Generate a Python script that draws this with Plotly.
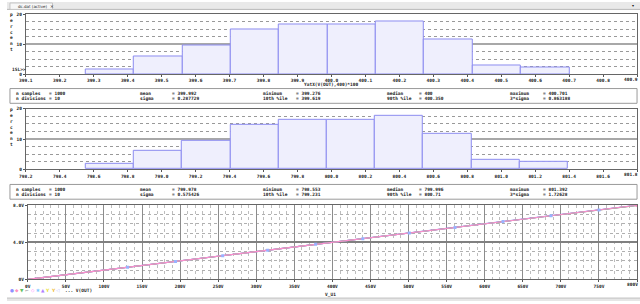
import plotly.graph_objects as go

W, H = 640, 304

# ---------------- data ----------------
# histogram 1 : YatX(V(OUT),400)*100
h1_title = "YatX(V(OUT),400)*100"
h1_min, h1_max, h1_ndiv = 399.276, 400.701, 10
h1_pct = [1.7, 6.0, 9.6, 14.9, 16.5, 16.5, 17.8, 11.7, 3.0, 2.3]
h1_ticks = ["399.1", "399.2", "399.3", "399.4", "399.5", "399.6", "399.7", "399.8", "399.9",
            "400.0", "400.1", "400.2", "400.3", "400.4", "400.5", "400.6", "400.7", "400.8", "400.9"]
h1_stats_r1 = [("n samples", "1000"), ("mean", "399.992"), ("minimum", "399.276"),
               ("median", "400"), ("maximum", "400.701")]
h1_stats_r2 = [("n divisions", "10"), ("sigma", "0.287729"), ("10th %ile", "399.619"),
               ("90th %ile", "400.350"), ("3*sigma", "0.863188")]

# histogram 2
h2_min, h2_max, h2_ndiv = 798.553, 801.392, 10
h2_pct = [1.8, 6.1, 9.5, 14.8, 16.4, 16.4, 17.7, 11.6, 3.1, 2.6]
h2_ticks = ["798.2", "798.4", "798.6", "798.8", "799.0", "799.2", "799.4", "799.6", "799.8",
            "800.0", "800.2", "800.4", "800.6", "800.8", "801.0", "801.2", "801.4", "801.6", "801.8"]
h2_stats_r1 = [("n samples", "1000"), ("mean", "799.978"), ("minimum", "798.553"),
               ("median", "799.996"), ("maximum", "801.392")]
h2_stats_r2 = [("n divisions", "10"), ("sigma", "0.575426"), ("10th %ile", "799.231"),
               ("90th %ile", "800.71"), ("3*sigma", "1.72628")]

# sweep plot V(OUT) vs V_U1
sweep_x = [0, 800]
vout_steps = [[0, 7.99], [0, 8.01], [0, 8.0], [0, 7.995], [0, 8.005]]
step_colors = ["#ff8ccf", "#8c8cff", "#c080ff", "#70c870", "#ff8ccf"]
marker_x = [131, 194, 256, 315, 378, 440, 501, 561, 624, 687, 750, 800]
marker_y = [1.31, 1.94, 2.56, 3.15, 3.78, 4.40, 5.01, 5.61, 6.24, 6.87, 7.50, 8.0]
marker_c = ["#99b3ff"] * 11 + ["#ff80c0"]
x3_vals = [0, 50, 100, 150, 200, 250, 300, 350, 400, 450, 500, 550, 600, 650, 700, 750, 800]
x3_text = ["0V", "50V", "100V", "150V", "200V", "250V", "300V", "350V", "400V", "450V",
           "500V", "550V", "600V", "650V", "700V", "750V", "800V"]
y3_vals = [0, 4, 8]
y3_text = ["0V", "4.0V", "8.0V"]
legend_syms = ["●", "◆", "▼", "⌐", "◇", "✱", "▲", "Y", "Y", "◁"]
legend_cols = ["#9090ff", "#ff90c0", "#60c060", "#999999", "#ff80ff", "#80c8ff",
               "#b080ff", "#e8e040", "#f0c040", "#c0c0ff"]

# ---------------- helpers ----------------
def px(x):
    return x / W

def py(y):
    return 1 - y / H

FONT = "DejaVu Sans Mono"
FS = 4.5
TXT = "#1a1a1a"
tf = dict(family=FONT, size=FS, color=TXT, weight="bold")

fig = go.Figure()

def hist(minv, maxv, ndiv, pct, xa, ya):
    bw = (maxv - minv) / ndiv
    centers = [minv + bw * (i + 0.5) for i in range(ndiv)]
    fig.add_trace(go.Bar(x=centers, y=pct, width=[bw] * ndiv, xaxis=xa, yaxis=ya,
                         marker=dict(color="#efeffd", line=dict(color="#8c8cf0", width=1)),
                         showlegend=False, hoverinfo="skip"))

hist(h1_min, h1_max, h1_ndiv, h1_pct, "x", "y")
hist(h2_min, h2_max, h2_ndiv, h2_pct, "x2", "y2")

for vs, c in zip(vout_steps, step_colors):
    fig.add_trace(go.Scatter(x=sweep_x, y=vs, mode="lines", xaxis="x3", yaxis="y3",
                             line=dict(color=c, width=1.1), showlegend=False, hoverinfo="skip"))
fig.add_trace(go.Scatter(x=marker_x, y=marker_y, mode="markers", xaxis="x3", yaxis="y3",
                         marker=dict(color=marker_c, size=3, symbol="square"),
                         showlegend=False, hoverinfo="skip"))

def hist_xaxis(ticks, dom):
    vals = [float(t) for t in ticks]
    shown = ticks[:-1] + [""]   # last label drawn as right-aligned annotation
    return dict(domain=dom, range=[vals[0], vals[-1]], tickmode="array", tickvals=vals,
                ticktext=shown, ticks="outside", ticklen=2, tickcolor="#555",
                tickfont=tf, showgrid=False, zeroline=False, showline=True, mirror=True,
                linecolor="#666", linewidth=1, fixedrange=True)

def hist_yaxis(dom, anchor):
    return dict(domain=dom, range=[0, 20], tickmode="array", tickvals=[0, 10, 20],
                ticktext=["0", "10", "20"], ticks="outside", ticklen=2, tickcolor="#555",
                tickfont=tf, showgrid=True, gridcolor="#a8a8a8", gridwidth=2, zeroline=False,
                showline=True, mirror=True, linecolor="#666", linewidth=1, anchor=anchor,
                minor=dict(dtick=2.5, tick0=0, showgrid=True, gridcolor="#999999",
                           griddash="dot", gridwidth=1),
                fixedrange=True)

xdom = [px(19), px(637)]
fig.update_layout(
    xaxis=hist_xaxis(h1_ticks, xdom) | dict(anchor="y"),
    yaxis=hist_yaxis([py(73.3), py(12.7)], "x"),
    xaxis2=hist_xaxis(h2_ticks, xdom) | dict(anchor="y2"),
    yaxis2=hist_yaxis([py(170), py(108.6)], "x2"),
    xaxis3=dict(domain=[px(21), px(637)], range=[0, 800], tickmode="array", tickvals=x3_vals,
                ticktext=x3_text[:-1] + [""], ticks="outside", ticklen=2, tickcolor="#555",
                tickfont=tf, showgrid=True, gridcolor="#8c8c8c", gridwidth=1, zeroline=False,
                showline=True, mirror=True, linecolor="#666", linewidth=1, anchor="y3",
                minor=dict(dtick=10, tick0=0, showgrid=True, gridcolor="#bdbdbd",
                           griddash="dot", gridwidth=1),
                fixedrange=True),
    yaxis3=dict(domain=[py(282), py(206.7)], range=[0, 8], tickmode="array", tickvals=y3_vals,
                ticktext=y3_text, ticks="outside", ticklen=2, tickcolor="#555", tickfont=tf,
                showgrid=True, gridcolor="#808080", gridwidth=1.5, zeroline=False,
                showline=True, mirror=True, linecolor="#666", linewidth=1, anchor="x3",
                minor=dict(dtick=1, tick0=0, showgrid=True, gridcolor="#b0b0b0",
                           griddash="dot", gridwidth=1),
                fixedrange=True),
    width=W, height=H, margin=dict(l=0, r=0, t=0, b=0),
    paper_bgcolor="white", plot_bgcolor="white", bargap=0, showlegend=False,
)

shapes = []
ann = []

def text(x, y, s, xanchor="left", size=FS, color=TXT, family=FONT, weight="bold"):
    ann.append(dict(x=px(x), y=py(y), xref="paper", yref="paper", text=s, showarrow=False,
                    xanchor=xanchor, yanchor="middle",
                    font=dict(family=family, size=size, color=color, weight=weight)))

# top tab bar
shapes.append(dict(type="rect", xref="paper", yref="paper", x0=0, x1=1, y0=py(7.5), y1=1,
                   fillcolor="#e9e9e9", line=dict(width=0), layer="above"))
shapes.append(dict(type="line", xref="paper", yref="paper", x0=0, x1=1, y0=py(7.5), y1=py(7.5),
                   line=dict(color="#b8b8b8", width=1), layer="above"))
shapes.append(dict(type="rect", xref="paper", yref="paper", x0=px(3), x1=px(46), y0=py(7.5),
                   y1=py(1), fillcolor="#f7f7f7", line=dict(color="#c4c4c4", width=1), layer="above"))
text(9, 4.3, "dc.dat (active)", family="DejaVu Sans", size=4, weight="normal")
text(41.5, 4.3, "×", family="DejaVu Sans", size=4.5, weight="normal")
text(636, 4, "▾", xanchor="right", family="DejaVu Sans", size=4, weight="normal")

# bottom bar
shapes.append(dict(type="rect", xref="paper", yref="paper", x0=0, x1=1, y0=0, y1=py(301),
                   fillcolor="#e6e6e6", line=dict(width=0), layer="above"))
shapes.append(dict(type="line", xref="paper", yref="paper", x0=0, x1=1, y0=py(301), y1=py(301),
                   line=dict(color="#c0c0c0", width=1)))

# y titles "percent"
for top in (12.7, 108.6):
    text(5, top + 18, "p<br>e<br>r<br>c<br>e<br>n<br>t", xanchor="center")
text(3, 68.3, "1SL&gt;&gt;")

# right-most tick labels (right aligned at the window edge)
text(640, 78.9, h1_ticks[-1], xanchor="right")
text(640, 175.6, h2_ticks[-1], xanchor="right")
text(640, 287.6, x3_text[-1], xanchor="right")

# histogram 1 title
text(328, 84, h1_title, xanchor="center")

# stats boxes
lab_x = [7, 132, 257, 382, 507]
val_x = [40, 165, 290, 415, 540]
for top, r1, r2 in ((88, h1_stats_r1, h1_stats_r2), (185.5, h2_stats_r1, h2_stats_r2)):
    shapes.append(dict(type="rect", xref="paper", yref="paper", x0=px(3), x1=px(637),
                       y0=py(top + 15), y1=py(top), fillcolor="white",
                       line=dict(color="#9a9a9a", width=1)))
    for row, dy in ((r1, 5.3), (r2, 10.3)):
        for (lab, val), lx, vx in zip(row, lab_x, val_x):
            text(lx, top + dy, lab)
            text(vx, top + dy, "= " + val)

# sweep plot labels
text(327, 298, "V_U1", xanchor="center")
for i, (s, c) in enumerate(zip(legend_syms, legend_cols)):
    text(5 + i * 5.2, 293.2, s, xanchor="center", color=c, family="DejaVu Sans", size=4.5)
text(57, 293.2, "... V(OUT)")

fig.update_layout(shapes=shapes, annotations=ann)
fig.write_html("out.html")
